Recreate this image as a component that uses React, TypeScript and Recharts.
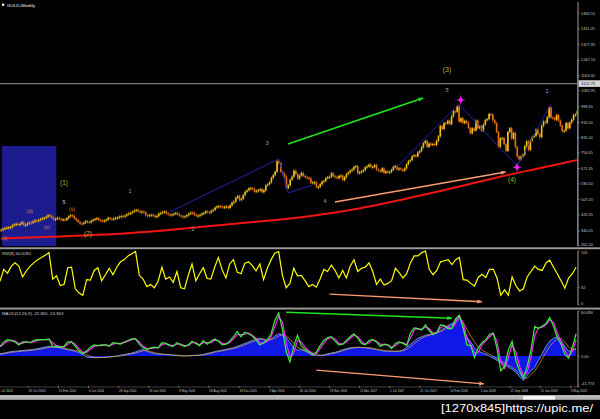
import React from 'react'
import { ComposedChart, Bar, Line, Area, XAxis, YAxis, ReferenceLine, ReferenceDot, ReferenceArea } from 'recharts'

// GOLD weekly, first bar = week of 13 Jul 2003
const firstOpen = 345
const closes = [
  // 2003
  347, 351, 356, 358, 360, 361, 370, 375, 378, 376, 378, 386, 372, 373, 380, 385, 383, 390, 396, 394, 398, 404, 408, 410, 415,
  // 2004
  424, 420, 410, 402, 404, 410, 404, 398, 402, 398, 408, 418, 424, 420, 406, 398, 388, 380, 378, 384, 392, 388, 386, 394, 400, 404,
  408, 398, 396, 392, 396, 400, 410, 406, 404, 406, 410, 412, 416, 419, 418, 422, 428, 433, 436, 442, 448, 452, 445, 440, 443, 440,
  // 2005
  424, 422, 424, 426, 422, 414, 420, 432, 436, 440, 444, 434, 428, 425, 428, 432, 436, 428, 422, 418, 416, 418, 424, 432, 438, 436,
  426, 422, 422, 426, 432, 436, 444, 440, 438, 448, 452, 464, 470, 472, 470, 464, 468, 470, 462, 476, 490, 496, 516, 526, 504, 510,
  // 2006
  530, 548, 556, 566, 568, 562, 548, 554, 556, 562, 546, 556, 582, 588, 598, 622, 636, 654, 710, 700, 655, 643, 628, 568, 582, 612,
  628, 660, 642, 618, 634, 648, 632, 626, 622, 620, 596, 598, 598, 574, 574, 588, 602, 606, 620, 626, 628, 646, 630, 628, 620, 632, 634,
  // 2007
  610, 626, 642, 650, 660, 666, 680, 684, 646, 652, 656, 663, 678, 682, 692, 680, 680, 690, 666, 660, 656, 672, 648, 656, 650, 654,
  664, 680, 684, 666, 672, 666, 660, 672, 694, 710, 716, 736, 742, 736, 756, 764, 784, 806, 818, 786, 804, 796, 802, 796, 818, 842,
  // 2008
  897, 881, 913, 910, 925, 907, 948, 975, 972, 1001, 920, 938, 912, 924, 914, 886, 858, 884, 873, 925, 885, 897, 872, 904, 929, 933,
  960, 957, 927, 912, 865, 786, 831, 833, 800, 765, 865, 885, 830, 860, 785, 735, 720, 735, 745, 790, 815, 770, 820, 838, 845, 878,
  // 2009
  855, 838, 898, 920, 914, 943, 995, 942, 940, 930, 955, 925, 898, 870, 872, 912, 885, 915, 930, 955, 958, 975,
]

// red moving average, read at a few weeks
const maWeeks = [0, 27, 53, 80, 106, 133, 160, 186, 213, 240, 266, 287, 307]
const maValues = [301, 310, 320, 338, 361, 386, 413, 451, 505, 566, 628, 673, 716]

// RSI(8), one reading every second week
const rsiValues = [
  44, 66, 59, 72, 78, 72, 52, 63, 72, 78, 84, 88, 92, 97, 48, 54, 36, 38, 69, 70,
  30, 22, 18, 47, 46, 64, 69, 45, 56, 68, 56, 70, 80, 84, 91, 95, 99, 55, 48, 34,
  38, 32, 44, 70, 48, 52, 42, 62, 32, 30, 55, 76, 45, 58, 69, 49, 48, 70, 88, 65,
  50, 76, 84, 61, 58, 77, 80, 73, 63, 76, 47, 68, 84, 96, 99, 55, 32, 40, 68, 54,
  55, 45, 34, 38, 33, 48, 66, 62, 74, 64, 50, 64, 50, 72, 84, 62, 68, 70, 78, 62,
  38, 48, 37, 40, 45, 68, 60, 50, 58, 78, 91, 91, 97, 100, 66, 56, 64, 80, 82, 84,
  75, 84, 88, 47, 46, 40, 35, 51, 57, 51, 66, 66, 50, 18, 28, 18, 52, 36, 26, 30,
  52, 62, 72, 66, 64, 78, 83, 70, 58, 45, 31, 50, 58, 70,
]

// MACD panel, one reading every second week
const macdGreen = [
  13, 19, 22, 21, 19, 15, 19, 19, 18, 21, 22, 22, 22, 23, 13, 13, 12, 13, 19, 19,
  13, 7, 3, 7, 12, 15, 14, 15, 15, 13, 18, 17, 16, 19, 21, 23, 23, 16, 11, 9,
  11, 12, 11, 18, 17, 14, 13, 18, 15, 13, 15, 20, 17, 14, 21, 16, 20, 23, 20, 15,
  16, 20, 26, 33, 26, 32, 30, 27, 22, 15, 18, 22, 30, 48, 58, 36, 6, -8, 13, 28,
  14, 9, 5, 1, 5, 14, 21, 25, 26, 20, 15, 16, 21, 26, 30, 24, 17, 15, 21, 22,
  19, 13, 16, 15, 10, 17, 19, 17, 14, 31, 38, 37, 35, 42, 34, 29, 32, 42, 41, 37,
  37, 50, 55, 38, 15, 14, -2, 11, 18, 22, 29, 31, 10, -20, -14, 8, 20, -6, -20, -30,
  -14, 8, 40, 37, 40, 44, 52, 40, 25, 16, 2, -3, 12, 30,
]
const macdMagenta = [
  12, 16, 20, 21, 20, 17, 17, 19, 18, 19, 21, 22, 22, 22, 18, 14, 13, 12, 16, 19,
  16, 10, 5, 5, 9, 13, 14, 14, 15, 14, 16, 17, 17, 18, 20, 22, 23, 19, 13, 10,
  10, 11, 11, 15, 17, 15, 14, 16, 16, 14, 14, 18, 18, 15, 18, 18, 18, 21, 21, 17,
  16, 18, 23, 29, 29, 29, 31, 28, 24, 18, 17, 20, 26, 40, 53, 46, 18, -2, 4, 21,
  19, 12, 7, 3, 3, 10, 17, 23, 25, 23, 17, 16, 19, 24, 28, 26, 20, 16, 18, 22,
  20, 16, 15, 15, 12, 14, 18, 18, 15, 24, 35, 37, 36, 39, 37, 31, 31, 38, 41, 39,
  37, 45, 53, 45, 24, 15, 4, 5, 15, 20, 26, 30, 19, -8, -17, -2, 15, 5, -14, -26,
  -22, -2, 27, 38, 39, 42, 49, 45, 31, 20, 8, -1, 6, 22,
]
const macdHist = [
  3, 4, 5, 6, 6.5, 7, 7.5, 8, 8.5, 9, 10, 11, 12, 13, 12.5, 12, 11, 9.5, 8.5, 7.5,
  6.5, 4.5, 2, -1.5, -2, -2.2, -2.3, -2, -1.5, -1, -0.5, 0, 1, 2, 3, 4, 5.5, 7.5, 8.8, 6.5,
  4.5, 3, 2.5, 2.2, 2, 1.5, 1, 0.5, 0.2, 0, 0.3, 0.7, 1, 1.2, 2.2, 3.5, 4.5, 6, 7, 8,
  9, 10, 11, 13, 15, 17, 19, 21, 22.5, 24, 22, 20, 23, 27, 30, 29, 25, 18, 11, 8,
  8.5, 6.5, 4.5, 2, 0.3, 0.5, 1.5, 3, 4, 5, 6.5, 8.5, 10, 11, 11.5, 12, 11.5, 11, 10.5, 9.5,
  8.5, 7.5, 6.5, 6.5, 6.5, 6.5, 6.5, 8, 12, 16, 20, 24, 26, 28, 29, 30.5, 32, 34, 38, 41,
  44, 48, 55, 38, 26, 19, 11, 6.5, 4.5, 2.5, 0, -3, -6, -9, -12, -15, -18, -22, -28, -33,
  -26, -20, -15.5, -6, 3, 13, 20, 24, 26, 21, 13, 6.5, 8, 10,
]
const macdOrange = [
  2, 3, 4, 5, 5.5, 6, 6.5, 7, 7.5, 8, 8.5, 9.5, 10.5, 11.5, 12, 12, 11.5, 10.5, 9.5, 8.5,
  7.5, 6, 4, 1.5, -0.5, -1.5, -2, -2, -2, -1.5, -1, -0.5, 0, 1, 2, 3, 4, 5.5, 7, 7.5,
  6, 4.5, 3.5, 2.8, 2.3, 2, 1.5, 1, 0.6, 0.3, 0.2, 0.4, 0.7, 1, 1.5, 2.5, 3.5, 5, 6, 7,
  8, 9, 10, 11.5, 13, 15, 17, 19, 21, 22.5, 23, 22, 22, 24, 27, 28.5, 27, 23, 17, 12,
  9.5, 8, 6.5, 4.5, 2.5, 1.2, 1, 2, 3, 4, 5.5, 7, 8.5, 10, 11, 11.5, 11.5, 11.5, 11, 10.5,
  9.5, 8.5, 7.5, 7, 6.5, 6.5, 6.5, 7, 9, 12.5, 16.5, 20.5, 24, 26.5, 28, 29.5, 31, 33, 35.5, 39,
  42, 45, 50, 46, 36, 27, 19, 12, 8, 5, 2.5, -0.5, -3.5, -6.5, -9.5, -12.5, -15.5, -19, -24, -29,
  -30, -25, -20, -13, -4, 5, 13, 19, 23, 24, 19, 12, 9, 9,
]

const priceTicks = [262.2, 340.05, 426.35, 507.2, 590.5, 671.35, 754.65, 835, 916, 999.65, 1082.95, 1121.75, 1163, 1247.1, 1327.95, 1411.25, 1494.55]
const rsiTicks = [0, 32, 100]
const macdTicks = [-41.773, 0, 60.69]
const macdTickText = ['-41.773', '0.00', '60.690']
const dateTickWeeks = [15, 31, 47, 63, 79, 95, 111, 127, 143, 159, 175, 191, 207, 223, 239, 255, 271, 287, 303]
const dateLabels = [
  '26 Oct 2003', '15 Feb 2004', '6 Jun 2004', '26 Sep 2004', '16 Jan 2005', '8 May 2005', '28 Aug 2005',
  '18 Dec 2005', '9 Apr 2006', '30 Jul 2006', '19 Nov 2006', '11 Mar 2007', '1 Jul 2007', '21 Oct 2007',
  '10 Feb 2008', '1 Jun 2008', '21 Sep 2008', '11 Jan 2009', '3 May 2009',
]

// hand drawn wave lines and arrows, in [week, value]
const waveLines = [
  [[90, 442], [148, 722]],
  [[148, 722], [153, 542]],
  [[153, 542], [166, 584]],
  [[211, 679], [244, 1013]],
  [[244, 1013], [275, 685]],
  [[275, 685], [293, 1013]],
]
const priceGreenArrow = [[153, 801], [225, 1045]]
const priceOrangeArrow = [[178, 494], [269, 653]]
const rsiOrangeArrow = [[175, 20], [256, 6]]
const macdGreenArrow = [[152, 59], [240, 51]]
const macdOrangeArrow = [[168, -19], [257, -37.5]]
const fractalMarks = [[245, 1035], [275, 678]]

const rows = closes.map((c, i) => {
  const o = i === 0 ? firstOpen : closes[i - 1]
  const even = i % 2 === 0
  const k = i / 2
  const m = maWeeks.indexOf(i)
  return {
    i,
    body: [Math.min(o, c), Math.max(o, c)],
    up: c >= o,
    ma: m >= 0 ? maValues[m] : null,
    rsi: even ? rsiValues[k] : null,
    green: even ? macdGreen[k] : null,
    magenta: even ? macdMagenta[k] : null,
    hist: even ? macdHist[k] : null,
    orange: even ? macdOrange[k] : null,
  }
})

const FONT = 'Liberation Sans, Arial, sans-serif'
const UP = '#f0c414'
const DOWN = '#e6701a'
const AXIS = '#c4c4c4'

const Candle = (p: any) => {
  const { x, y, width, height, payload } = p
  if (x == null || y == null) return null
  const top = Math.min(y, y + height)
  const h = Math.max(Math.abs(height), 1)
  const cx = x + width / 2
  const color = payload.up ? UP : DOWN
  return (
    <g>
      <line x1={cx} x2={cx} y1={top - 1.3} y2={top + h + 1.3} stroke={color} strokeWidth={0.7} />
      <rect x={cx - 0.8} y={top} width={1.6} height={h} fill={color} />
    </g>
  )
}

const arrow = (color: string, w: number) => (p: any) => {
  const { x1, y1, x2, y2 } = p
  const ang = Math.atan2(y2 - y1, x2 - x1)
  const len = 5
  const a1 = ang + Math.PI - 0.42
  const a2 = ang + Math.PI + 0.42
  return (
    <g>
      <line x1={x1} y1={y1} x2={x2} y2={y2} stroke={color} strokeWidth={w} />
      <polygon
        points={`${x2},${y2} ${x2 + len * Math.cos(a1)},${y2 + len * Math.sin(a1)} ${x2 + len * Math.cos(a2)},${y2 + len * Math.sin(a2)}`}
        fill={color}
      />
    </g>
  )
}

const Fractal = (p: any) => {
  const { cx, cy } = p
  return (
    <g>
      <polygon points={`${cx},${cy - 3} ${cx + 2.6},${cy} ${cx},${cy + 3} ${cx - 2.6},${cy}`} fill="#ff20ff" />
      <line x1={cx} x2={cx} y1={cy - 4.5} y2={cy + 4.5} stroke="#ff20ff" strokeWidth={0.8} />
      <line x1={cx - 4} x2={cx + 4} y1={cy} y2={cy} stroke="#ff20ff" strokeWidth={0.8} />
    </g>
  )
}

const PriceTick = (p: any) => {
  const { x, y, payload } = p
  const v = payload.value
  if (v === 1121.75) {
    return (
      <g>
        <rect x={x + 0.5} y={y - 3.3} width={21.5} height={6.6} fill="#d6d6d6" />
        <text x={x + 3} y={y + 1.5} fontSize={4} fill="#000" fontFamily={FONT}>{v.toFixed(2)}</text>
      </g>
    )
  }
  const dy = v === 262.2 ? -0.8 : 0
  return (
    <g>
      <line x1={x} x2={x + 1.6} y1={y} y2={y} stroke={AXIS} strokeWidth={0.5} />
      <text x={x + 3} y={y + 1.4 + dy} fontSize={3.9} fill={AXIS} fontFamily={FONT}>{v.toFixed(2)}</text>
    </g>
  )
}

const RsiTick = (p: any) => {
  const { x, y, payload } = p
  const dy = payload.value === 0 ? -1.2 : payload.value === 100 ? 1.4 : 0
  return (
    <g>
      <line x1={x} x2={x + 1.6} y1={y} y2={y} stroke={AXIS} strokeWidth={0.5} />
      <text x={x + 3} y={y + 1.4 + dy} fontSize={3.9} fill={AXIS} fontFamily={FONT}>
        {String(payload.value)}
      </text>
    </g>
  )
}

const MacdTick = (p: any) => {
  const { x, y, payload } = p
  const idx = macdTicks.indexOf(payload.value)
  const dy = payload.value < 0 ? -3.5 : payload.value > 1 ? 1.3 : 0.8
  return (
    <g>
      <line x1={x} x2={x + 1.6} y1={y} y2={y} stroke={AXIS} strokeWidth={0.5} />
      <text x={x + 3} y={y + 1.4 + dy} fontSize={3.9} fill={AXIS} fontFamily={FONT}>{macdTickText[idx]}</text>
    </g>
  )
}

const DateTick = (p: any) => {
  const { x, y, payload } = p
  const label = dateLabels[dateTickWeeks.indexOf(payload.value)]
  return (
    <g>
      <line x1={x} x2={x} y1={y - 1.2} y2={y + 0.8} stroke={AXIS} strokeWidth={0.5} />
      <text x={x + 0.3} y={y + 5.2} fontSize={3.1} fill={AXIS} fontFamily={FONT}>{label}</text>
    </g>
  )
}

const seg = (s: number[][]) => [{ x: s[0][0], y: s[0][1] }, { x: s[1][0], y: s[1][1] }]
const zeroMargin = { top: 0, right: 0, bottom: 0, left: 0 }

const waveTexts: [string, number, number, string, number][] = [
  ['(3)', 447, 69, '#b4b42a', 7],
  ['5', 447, 90, '#a8a8a8', 5.5],
  ['1', 547, 91, '#a8a8a8', 5.5],
  ['3', 267, 143, '#a8a8a8', 5.5],
  ['1', 130, 191, '#a8a8a8', 5.5],
  ['(1)', 64, 182, '#b4b42a', 6.5],
  ['5', 64, 202, '#c8c8c8', 5.5],
  ['(v)', 72, 209, '#e08a3c', 5],
  ['(iii)', 30, 211, '#d08058', 4.5],
  ['(iv)', 47, 227, '#d08058', 4.5],
  ['(ii)', 5, 238, '#d08058', 4.5],
  ['(2)', 88, 233, '#e0a020', 6.5],
  ['2', 193, 229, '#a8a8a8', 5.5],
  ['4', 325, 201, '#a8a8a8', 5.5],
  ['(4)', 512, 179, '#b4b42a', 6.5],
]

export default function App() {
  return (
    <div style={{ position: 'absolute', left: 0, top: 0, width: 600, height: 419, background: '#000', overflow: 'hidden' }}>
      <style>{'.recharts-surface { overflow: visible; }'}</style>
      {/* price panel */}
      <div style={{ position: 'absolute', left: 0, top: 2 }}>
        <ComposedChart width={600} height={244} data={rows} margin={zeroMargin}>
          <XAxis dataKey="i" hide />
          <YAxis orientation="right" width={22} domain={[260.6, 1554.3]} ticks={priceTicks} interval={0}
            tick={<PriceTick />} tickLine={false} tickSize={0} tickMargin={0} axisLine={{ stroke: AXIS, strokeWidth: 0.8 }} allowDataOverflow />
          <ReferenceArea x1={1} x2={29} y1={260.6} y2={791} fill="#1c1c8e" fillOpacity={1} stroke="none" />
          <ReferenceLine y={1121.75} stroke="#7a7a7a" strokeWidth={1.4} />
          <Line dataKey="ma" type="monotone" connectNulls stroke="#f01414" strokeWidth={2} dot={false} isAnimationActive={false} />
          <Bar dataKey="body" shape={Candle} isAnimationActive={false} />
          {waveLines.map((s, n) => (
            <ReferenceLine key={n} segment={seg(s)} stroke="#2626b8" strokeWidth={0.9} />
          ))}
          <ReferenceLine segment={seg(priceGreenArrow)} shape={arrow('#1ee61e', 1.6)} />
          <ReferenceLine segment={seg(priceOrangeArrow)} shape={arrow('#ff9c72', 1.4)} />
          {fractalMarks.map((f, n) => (
            <ReferenceDot key={n} x={f[0]} y={f[1]} r={3} shape={Fractal} />
          ))}
        </ComposedChart>
      </div>

      {/* RSI panel */}
      <div style={{ position: 'absolute', left: 0, top: 251 }}>
        <ComposedChart width={600} height={54} data={rows} margin={zeroMargin}>
          <XAxis dataKey="i" hide />
          <YAxis orientation="right" width={22} domain={[0, 100]} ticks={rsiTicks} interval={0}
            tick={<RsiTick />} tickLine={false} tickSize={0} tickMargin={0} axisLine={{ stroke: AXIS, strokeWidth: 0.8 }} />
          <Line dataKey="rsi" connectNulls stroke="#ffff00" strokeWidth={1.2} dot={false} isAnimationActive={false} />
          <ReferenceLine segment={seg(rsiOrangeArrow)} shape={arrow('#ff9c72', 1.3)} />
        </ComposedChart>
      </div>

      {/* MACD panel */}
      <div style={{ position: 'absolute', left: 0, top: 311 }}>
        <ComposedChart width={600} height={85} data={rows} margin={zeroMargin}>
          <XAxis dataKey="i" height={9} ticks={dateTickWeeks} interval={0} tick={<DateTick />} tickLine={false}
            tickSize={0} tickMargin={0} axisLine={{ stroke: '#6a6a6a', strokeWidth: 0.6 }} />
          <YAxis orientation="right" width={22} domain={[-41.773, 60.69]} ticks={macdTicks} interval={0}
            tick={<MacdTick />} tickLine={false} tickSize={0} tickMargin={0} axisLine={{ stroke: AXIS, strokeWidth: 0.8 }} allowDataOverflow />
          <Area dataKey="hist" baseValue={0} connectNulls fill="#0f18e6" fillOpacity={1} stroke="#8cc8ff" strokeWidth={0.7} isAnimationActive={false} />
          <Line dataKey="orange" connectNulls stroke="#e0a040" strokeWidth={0.7} dot={false} isAnimationActive={false} />
          <Line dataKey="magenta" connectNulls stroke="#ff28ff" strokeWidth={1.2} dot={false} isAnimationActive={false} />
          <Line dataKey="green" connectNulls stroke="#3cf03c" strokeWidth={1.2} dot={false} isAnimationActive={false} />
          <ReferenceLine segment={seg(macdGreenArrow)} shape={arrow('#1ee61e', 1.5)} />
          <ReferenceLine segment={seg(macdOrangeArrow)} shape={arrow('#ff9c72', 1.3)} />
        </ComposedChart>
      </div>

      {/* frame, labels, wave counts */}
      <svg width={600} height={419} style={{ position: 'absolute', left: 0, top: 0, pointerEvents: 'none' }}>
        <rect x={2} y={3.6} width={2.2} height={2.2} fill="#fff" />
        <text x={7} y={6.6} fontSize={4.4} fill="#fff" fontFamily={FONT}>GOLD,Weekly</text>
        <line x1={577.6} x2={577.6} y1={60} y2={246} stroke="#3c8ce6" strokeWidth={1} />
        <rect x={0} y={247.3} width={600} height={1.9} fill="#9c9c9c" />
        <rect x={0} y={307.6} width={600} height={1.9} fill="#9c9c9c" />
        <text x={2} y={255} fontSize={4.3} fill="#d0d0d0" fontFamily={FONT}>RSI(8) 40.6282</text>
        <text x={2} y={315} fontSize={4.3} fill="#d0d0d0" fontFamily={FONT}>MACD(12,26,9) -22.865 -24.963</text>
        <text x={-1.5} y={392.2} fontSize={3.1} fill={AXIS} fontFamily={FONT}>6 Jul 2003</text>
        {waveTexts.map(([t, x, y, c, s], n) => (
          <text key={n} x={x} y={y} fontSize={s} fill={c} fontFamily={FONT} textAnchor="middle" dominantBaseline="central">{t}</text>
        ))}
        <rect x={0} y={395.4} width={600} height={4.4} fill="#b4b4b4" />
        <rect x={0} y={395.4} width={600} height={0.8} fill="#e0e0e0" />
        <rect x={523} y={396} width={32} height={3.6} fill="#f4f4f4" />
        <text x={441} y={412} fontSize={11.5} fill="#fff" fontFamily={FONT} textLength={152} lengthAdjust="spacingAndGlyphs">[1270x845]https://upic.me/</text>
      </svg>
    </div>
  )
}
